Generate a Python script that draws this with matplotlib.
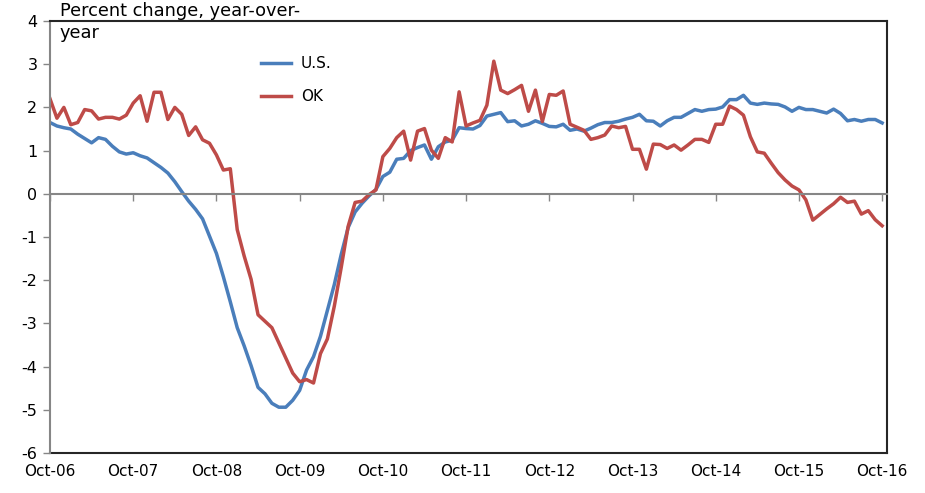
import numpy as np
import matplotlib
matplotlib.use("Agg")
import matplotlib.pyplot as plt

tick_labels = ["Oct-06", "Oct-07", "Oct-08", "Oct-09", "Oct-10", "Oct-11",
               "Oct-12", "Oct-13", "Oct-14", "Oct-15", "Oct-16"]

us = [1.65, 1.57, 1.53, 1.50, 1.38, 1.28, 1.18, 1.30, 1.26, 1.10, 0.97, 0.92, 0.95,
      0.88, 0.83, 0.72, 0.61, 0.48, 0.28, 0.05, -0.17, -0.36, -0.58, -0.98, -1.38,
      -1.92, -2.5, -3.1, -3.52, -3.98, -4.48, -4.63, -4.85, -4.94, -4.94, -4.78, -4.55,
      -4.08, -3.77, -3.3, -2.7, -2.1, -1.4, -0.78, -0.42, -0.22, -0.05, 0.1, 0.4,
      0.5, 0.8, 0.82, 1.0, 1.07, 1.13, 0.8, 1.09, 1.2, 1.24, 1.53, 1.51,
      1.5, 1.58, 1.8, 1.84, 1.88, 1.67, 1.69, 1.57, 1.61, 1.69, 1.63, 1.56,
      1.55, 1.61, 1.47, 1.5, 1.45, 1.52, 1.6, 1.65, 1.65, 1.68, 1.73, 1.77,
      1.84, 1.69, 1.68, 1.57, 1.69, 1.77, 1.77, 1.86, 1.95, 1.91, 1.95, 1.96,
      2.01, 2.18, 2.18, 2.28, 2.1, 2.07, 2.1, 2.08, 2.07, 2.01, 1.91, 2.0,
      1.95, 1.95, 1.91, 1.87, 1.96, 1.86, 1.69, 1.72, 1.68, 1.72, 1.72, 1.64]

ok = [2.2, 1.75, 2.0, 1.6, 1.65, 1.95, 1.92, 1.73, 1.77, 1.77, 1.73, 1.82, 2.1,
      2.27, 1.68, 2.35, 2.35, 1.72, 2.0, 1.84, 1.35, 1.55, 1.25, 1.17, 0.9,
      0.55, 0.58, -0.83, -1.44, -1.98, -2.8, -2.95, -3.1, -3.45, -3.8, -4.15, -4.35,
      -4.3, -4.38, -3.7, -3.36, -2.6, -1.7, -0.75, -0.2, -0.17, -0.02, 0.09, 0.86,
      1.05, 1.3, 1.45, 0.78, 1.45, 1.51, 1.01, 0.82, 1.3, 1.2, 2.36, 1.57,
      1.64, 1.7, 2.05, 3.07, 2.4, 2.32, 2.41, 2.51, 1.91, 2.4, 1.67, 2.3,
      2.28, 2.38, 1.61, 1.54, 1.47, 1.26, 1.3, 1.36, 1.57, 1.53, 1.56, 1.03,
      1.03, 0.57, 1.15, 1.14, 1.05, 1.13, 1.01, 1.13, 1.26, 1.26, 1.19, 1.61,
      1.61, 2.03, 1.95, 1.82, 1.32, 0.97, 0.94, 0.71, 0.49, 0.32, 0.18, 0.09,
      -0.14, -0.61, -0.48, -0.35, -0.23, -0.08, -0.2, -0.17, -0.47, -0.39, -0.6, -0.74]

months = np.arange(len(us))

BLUE = "#4A7EBB"
RED = "#BE4B48"
GRAY = "#868686"
DARK = "#262626"

fig = plt.figure(figsize=(9.25, 4.93), dpi=100)
ax = fig.add_axes([50 / 925, 1 - 453 / 493, 837 / 925, 432 / 493])

ax.plot(months, us, color=BLUE, lw=2.5, label="U.S.", solid_joinstyle="round")
ax.plot(months, ok, color=RED, lw=2.5, label="OK", solid_joinstyle="round")

ax.set_xlim(0, 120.7)
ax.set_ylim(-6, 4)
ax.set_yticks(np.arange(-6, 5, 1))
ax.set_yticklabels([str(v) for v in range(-6, 5)], fontsize=11.5)

# zero axis line with downward ticks
ax.spines["bottom"].set_position(("data", 0))
ax.spines["bottom"].set_color(GRAY)
ax.spines["bottom"].set_linewidth(1.5)
ax.set_xticks(np.arange(0, 121, 12))
ax.tick_params(axis="x", direction="out", length=5, width=1, color=GRAY,
               labelbottom=False)
ax.spines["left"].set_color(GRAY)
ax.spines["left"].set_linewidth(1.5)
ax.tick_params(axis="y", direction="out", length=5, width=1, color=GRAY, pad=4)
for s in ("top", "right"):
    ax.spines[s].set_color(DARK)
    ax.spines[s].set_linewidth(1.5)

# bottom frame line with category labels
sec = ax.secondary_xaxis("bottom")
sec.set_xticks(np.arange(0, 121, 12))
sec.set_xticklabels(tick_labels, fontsize=11)
sec.tick_params(length=0, pad=8)
sec.spines["bottom"].set_color(DARK)
sec.spines["bottom"].set_linewidth(1.5)

leg = ax.legend(loc="upper left", bbox_to_anchor=(0.252, 0.918), frameon=False,
                fontsize=11, handlelength=2.0, labelspacing=1.15, borderpad=0,
                borderaxespad=0, handletextpad=0.6)

fig.text(60 / 925, 1 - 2 / 493, "Percent change, year-over-\nyear", fontsize=12.8,
         ha="left", va="top", linespacing=1.25)

fig.savefig("out.png", dpi=100)
